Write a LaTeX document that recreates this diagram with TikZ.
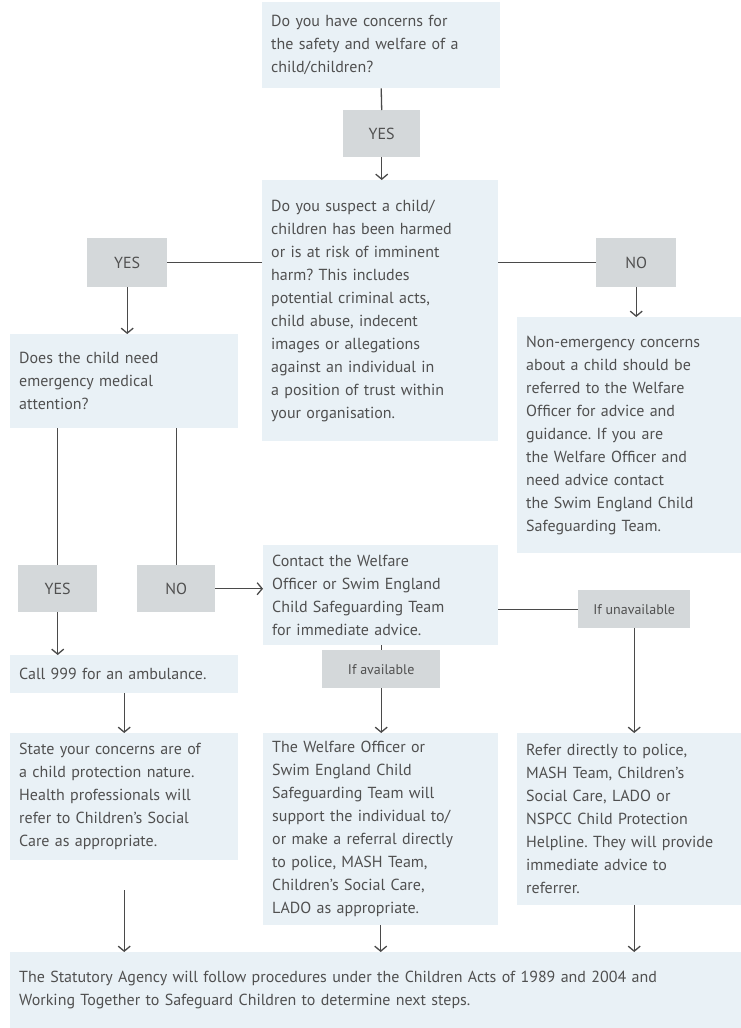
\documentclass[tikz,border=0pt]{standalone}
\usepackage{fontspec}
\setmainfont{PT Sans}
\frenchspacing
\usetikzlibrary{arrows.meta}
\definecolor{boxblue}{HTML}{E9F1F6}
\definecolor{labgray}{HTML}{D4D8DA}
\definecolor{txtgray}{HTML}{505050}
\definecolor{linegray}{HTML}{4A4A4A}

\begin{document}
\begin{tikzpicture}[x=1pt,y=-1pt,
	box/.style={fill=boxblue, text=txtgray, anchor=north west, align=left, inner xsep=9pt, inner ysep=0pt, font=\fontsize{16}{23}\selectfont},
	tag/.style={fill=labgray, text=txtgray, anchor=north west, inner sep=0pt, font=\fontsize{16}{18}\selectfont},
	flow/.style={draw=linegray, line width=1.3pt},
	flowarrow/.style={flow, -{Straight Barb[length=5pt,width=12pt]}}]
	\useasboundingbox (0,0) rectangle (741,1028);

	\node [box, text width=220pt, minimum height=86pt] (concern) at (262,2) {Do you have concerns for\\the safety and welfare of a\\child/children?};
	\node [tag, minimum width=77pt, minimum height=47pt] (yesA) at (343,110) {YES};
	\node [box, text width=218pt, minimum height=261pt] (suspect) at (262,180) {Do you suspect a child/\\children has been harmed\\or is at risk of imminent\\harm? This includes\\potential criminal acts,\\child abuse, indecent\\images or allegations\\against an individual in\\a position of trust within\\your organisation.};
	\node [tag, minimum width=80pt, minimum height=49pt] (yesB) at (87,238) {YES};
	\node [tag, minimum width=80pt, minimum height=49pt] (noA) at (596,238) {NO};
	\node [box, text width=210pt, minimum height=94pt] (medical) at (10,334) {Does the child need\\emergency medical\\attention?};
	\node [box, text width=206pt, minimum height=236pt] (nonurgent) at (517,317) {Non-emergency concerns\\about a child should be\\referred to the Welfare\\Officer for advice and\\guidance. If you are\\the Welfare Officer and\\need advice contact\\the Swim England Child\\Safeguarding Team.};

	\node [tag, minimum width=79pt, minimum height=47pt] (yesC) at (18,565) {YES};
	\node [tag, minimum width=78pt, minimum height=47pt] (noB) at (137,565) {NO};
	\node [box, text width=217pt, minimum height=100pt] (contact) at (263,545) {Contact the Welfare\\Officer or Swim England\\Child Safeguarding Team\\for immediate advice.};
	\node [tag, minimum width=112pt, minimum height=38pt, font=\fontsize{14}{16}\selectfont] (unavail) at (578,590) {If unavailable};
	\node [tag, minimum width=118pt, minimum height=38pt, font=\fontsize{14}{16}\selectfont] (avail) at (322,650) {If available};
	\node [box, text width=210pt, minimum height=38pt] (ambulance) at (10,655) {Call 999 for an ambulance.};

	\node [box, text width=210pt, minimum height=127pt] (state) at (10,733) {State your concerns are of\\a child protection nature.\\Health professionals will\\refer to Children’s Social\\Care as appropriate.};
	\node [box, text width=217pt, minimum height=192pt] (welfare) at (263,733) {The Welfare Officer or\\Swim England Child\\Safeguarding Team will\\support the individual to/\\or make a referral directly\\to police, MASH Team,\\Children’s Social Care,\\LADO as appropriate.};
	\node [box, text width=206pt, minimum height=172pt] (refer) at (517,733) {Refer directly to police,\\MASH Team, Children’s\\Social Care, LADO or\\NSPCC Child Protection\\Helpline. They will provide\\immediate advice to\\referrer.};
	\node [box, text width=713pt, minimum height=76pt] (statutory) at (10,952) {The Statutory Agency will follow procedures under the Children Acts of 1989 and 2004 and\\Working Together to Safeguard Children to determine next steps.};

	\draw [flow] (concern.south) -- (yesA.north);
	\draw [flowarrow] (yesA.south) -- (yesA.south |- suspect.north);
	\draw [flow] (suspect.west |- yesB.east) -- (yesB.east);
	\draw [flow] (suspect.east |- noA.west) -- (noA.west);
	\draw [flowarrow] (yesB.south) -- (yesB.south |- medical.north);
	\draw [flowarrow] (noA.south) -- (noA.south |- nonurgent.north);
	\draw [flow] (medical.south -| yesC.north) -- (yesC.north);
	\draw [flow] (medical.south -| noB.north) -- (noB.north);
	\draw [flowarrow] (yesC.south) -- (yesC.south |- ambulance.north);
	\draw [flowarrow] (noB.east) -- (noB.east -| contact.west);
	\draw [flow] (contact.east |- unavail.west) -- (unavail.west);
	\draw [flowarrow] (unavail.south) -- (unavail.south |- refer.north);
	\draw [flow] (contact.south -| avail.north) -- (avail.north);
	\draw [flowarrow] (avail.south) -- (avail.south |- welfare.north);
	\draw [flowarrow] (ambulance.south) -- (ambulance.south |- state.north);
	\draw [flowarrow] ([yshift=-30pt]state.south) -- (state.south |- statutory.north);
	\draw [flowarrow] (welfare.south) -- (welfare.south |- statutory.north);
	\draw [flowarrow] (refer.south -| unavail.south) -- (unavail.south |- statutory.north);
\end{tikzpicture}
\end{document}
